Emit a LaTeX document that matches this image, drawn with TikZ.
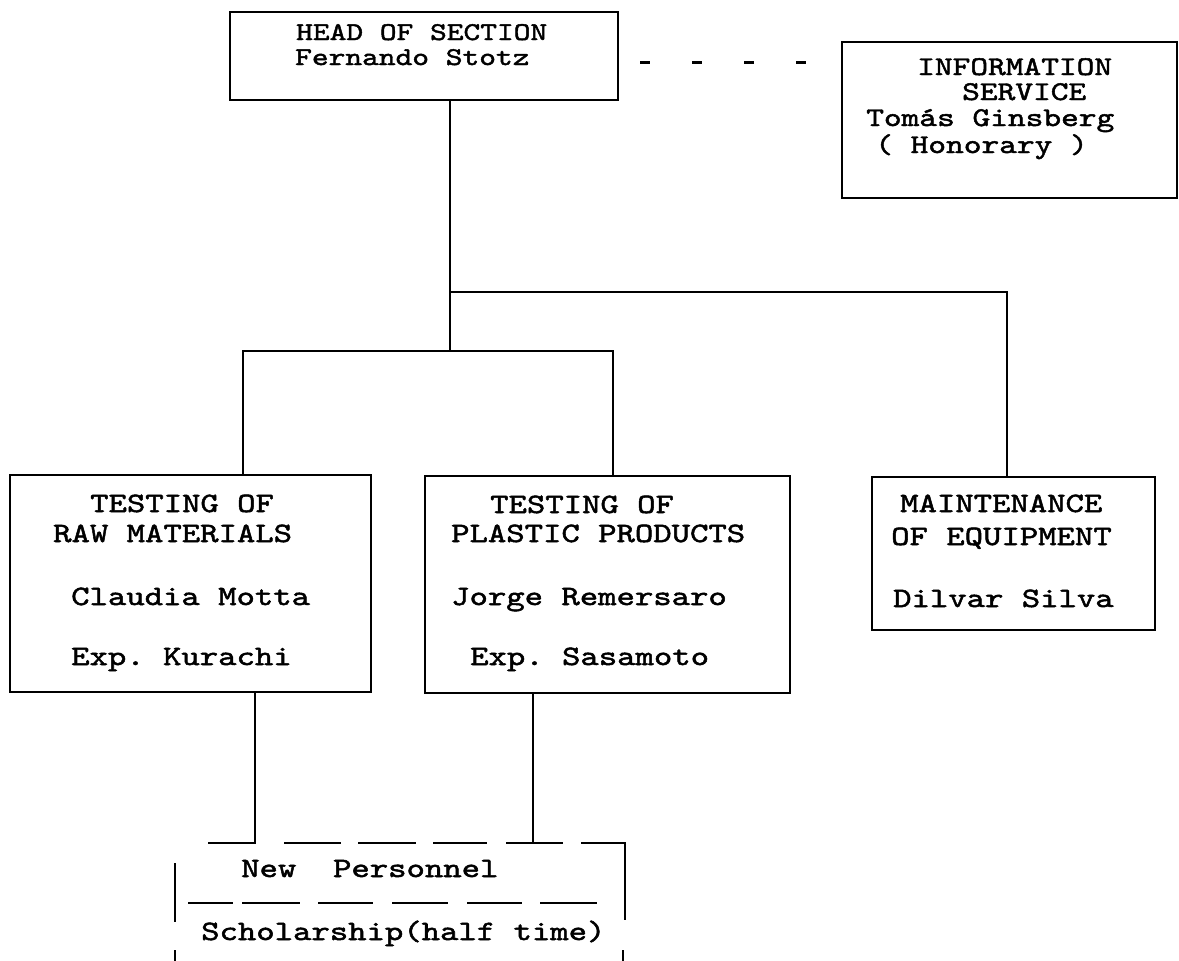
\documentclass[tikz,border=0pt]{standalone}
\usepackage{fontspec}
\newfontfamily\tw{lmmono10-regular}[Extension=.otf, FakeStretch=1.25, FakeBold=1.8]
\frenchspacing
\begin{document}
\begin{tikzpicture}[x=1pt,y=-1pt,
  box/.style={draw, line width=2.4pt, inner sep=0pt, outer sep=0pt, rectangle},
  conn/.style={line width=2.4pt},
  txt/.style={anchor=base west, inner sep=0pt, font=\tw\fontsize{28}{28}\selectfont},
  itxt/.style={anchor=base west, inner sep=0pt, font=\tw\fontsize{27}{27}\selectfont},
  htxt/.style={anchor=base west, inner sep=0pt, font=\tw\fontsize{25.5}{25.5}\selectfont}]
\useasboundingbox (0,0) rectangle (1179,961);
% boxes
\node[box, minimum width=388pt, minimum height=88pt] (head) at (424,56) {};
\node[box, minimum width=335pt, minimum height=156pt] (info) at (1009.5,120) {};
\node[box, minimum width=361pt, minimum height=217pt] (raw) at (190.5,583.5) {};
\node[box, minimum width=365pt, minimum height=217pt] (plastic) at (607.5,584.5) {};
\node[box, minimum width=283pt, minimum height=153pt] (maint) at (1013.5,553.5) {};
% texts
\node[htxt] (h1) at (296,40) {HEAD OF SECTION};
\node[htxt] (h2) at (295,65) {Fernando Stotz};
\node[itxt] (i1) at (917,75) {INFORMATION};
\node[itxt] (i2) at (962,100) {SERVICE};
\node[itxt] (i3) at (866,126) {Tomás Ginsberg};
\node[itxt] (i4) at (875,153) {( Honorary )};
\node[txt] (r1) at (90,512) {TESTING OF};
\node[txt] (r2) at (53,542) {RAW MATERIALS};
\node[txt] (r3) at (71,605) {Claudia Motta};
\node[txt] (r4) at (71,665) {Exp. Kurachi};
\node[txt] (p1) at (490,513) {TESTING OF};
\node[txt] (p2) at (451,542) {PLASTIC PRODUCTS};
\node[txt] (p3) at (451,605) {Jorge Remersaro};
\node[txt] (p4) at (470,665) {Exp. Sasamoto};
\node[txt] (m1) at (900,512) {MAINTENANCE};
\node[txt] (m2) at (891,545) {OF EQUIPMENT};
\node[txt] (m3) at (893,607) {Dilvar Silva};
\node[txt] (n1) at (241,877) {New\ \ Personnel};
\node[txt] (n2) at (201,940) {Scholarship(half time)};
% junctions
\coordinate (d1) at (0,62);
\coordinate (j1) at (450,292);
\coordinate (j2) at (1007,292);
\coordinate (j3) at (450,351);
\coordinate (j4) at (243,351);
\coordinate (j5) at (613,351);
\coordinate (b0) at (208,843);
\coordinate (b1) at (255,843);
\coordinate (b2) at (533,843);
% connectors
\draw[conn, line width=3pt, dash pattern=on 10pt off 42pt, dash phase=30pt] (head.east |- d1) -- (info.west |- d1);
\draw[conn] (head.south -| j1) -- (j3);
\draw[conn] (j1) -- (j2) -- (maint.north -| j2);
\draw[conn] (raw.north -| j4) -- (j4) -- (j5) -- (plastic.north -| j5);
\draw[conn] (raw.south -| b1) -- (b1) -- (b0);
\draw[conn] (plastic.south -| b2) -- (b2);
% new personnel box (typed dashes)
\draw[conn] (284,843) -- (341,843);
\draw[conn] (358,843) -- (416,843);
\draw[conn] (433,843) -- (487,843);
\draw[conn] (506,843) -- (563,843);
\draw[conn] (581,843) -- (625,843) -- (625,920);
\draw[conn] (175,863) -- (175,922);
\draw[conn] (188,903) -- (233,903);
\draw[conn] (242,903) -- (300,903);
\draw[conn] (318,903) -- (373,903);
\draw[conn] (392,903) -- (448,903);
\draw[conn] (467,903) -- (522,903);
\draw[conn] (540,903) -- (597,903);
\draw[conn] (175,950) -- (175,961);
\draw[conn] (623,950) -- (623,961);
\end{tikzpicture}
\end{document}
